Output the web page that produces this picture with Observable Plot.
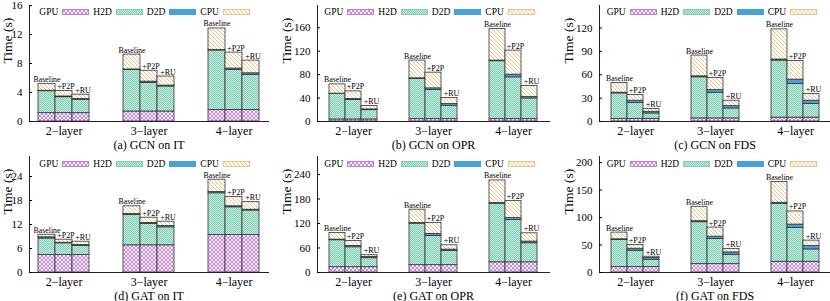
<!DOCTYPE html>
<html><head><meta charset="utf-8">
<script src="https://cdn.jsdelivr.net/npm/d3@7"></script>
<script src="https://cdn.jsdelivr.net/npm/@observablehq/plot@0.6"></script>
<style>
body{margin:0;background:#fff;}
#fig{position:relative;width:830px;height:301px;overflow:hidden;font-family:"Liberation Serif","Times New Roman",Times,"DejaVu Serif",serif;}
#fig svg, #fig svg text{font-family:"Liberation Serif","Times New Roman",Times,"DejaVu Serif",serif !important;}
.panel{position:absolute;}
.legend{position:absolute;display:flex;align-items:center;height:10px;font-size:9.5px;line-height:10px;}
.entry{display:flex;align-items:center;justify-content:flex-end;width:53.5px;}
.entry span{margin-right:4px;}
.entry svg{display:block;}
</style></head>
<body>
<svg width="0" height="0" style="position:absolute">
<defs>
<pattern id="pGPU" width="4" height="4" patternUnits="userSpaceOnUse">
 <rect width="4" height="4" fill="#f7edfc"/>
 <path d="M0,0L4,4M4,0L0,4" stroke="#c07ee8" stroke-width="0.9"/>
</pattern>
<pattern id="pH2D" width="2" height="2" patternUnits="userSpaceOnUse">
 <rect width="2" height="2" fill="#c4ecdf"/>
 <rect width="1" height="1" fill="#80cfb4"/>
 <rect x="1" y="1" width="1" height="1" fill="#80cfb4"/>
</pattern>
<pattern id="pCPU" width="4" height="4" patternUnits="userSpaceOnUse">
 <rect width="4" height="4" fill="#fff"/>
 <path d="M0,0L4,4M-1,3L1,5M3,-1L5,1" stroke="#f4c27c" stroke-width="1"/>
</pattern>
</defs></svg>
<div id="fig"></div>
<script>
// ---- categories ----
const layers = ["2\u2212layer", "3\u2212layer", "4\u2212layer"];
const variants = ["Baseline", "+P2P", "+RU"];
const components = ["GPU", "H2D", "D2D", "CPU"];
const captions = ["(a) GCN on IT", "(b) GCN on OPR", "(c) GCN on FDS", "(d) GAT on IT", "(e) GAT on OPR", "(f) GAT on FDS"];
const yLabel = "Time (s)";
const yMax = [16, 198, 149, 29, 284, 211];
const yTicks = [[0,4,8,12,16],[0,40,80,120,160],[0,30,60,90,120],[0,6,12,18,24],[0,60,120,180,240],[0,50,100,150,200]];

// ---- values (segment durations, seconds) order: 2L B,P,R | 3L B,P,R | 4L B,P,R ----
const gcnIT_GPU = [1.15,1.15,1.15, 1.38,1.38,1.38, 1.6,1.6,1.6];
const gcnIT_H2D = [3.03,2.2,1.85, 5.72,3.95,3.45, 8.2,5.5,4.8];
const gcnIT_D2D = [0.07,0.1,0.1, 0.08,0.17,0.12, 0.08,0.2,0.25];
const gcnIT_CPU = [0.95,0.75,0.6, 2.05,1.5,1.25, 2.95,2.2,1.75];

const gcnOPR_GPU = [3.5,3.5,3.5, 4,4,4, 4,4,4];
const gcnOPR_H2D = [43.4,33.1,15.9, 68.6,49.7,22.9, 98.9,71.4,35.4];
const gcnOPR_D2D = [0.6,1.7,1.2, 1.1,2.9,2.8, 1.1,4.6,2.3];
const gcnOPR_CPU = [15.9,13.1,5.7, 30.3,26.8,10.3, 53.7,41,18.9];

const gcnFDS_GPU = [3.4,3.4,3.4, 4,4,4, 5,5,5];
const gcnFDS_H2D = [32.7,20.3,6.9, 52.8,33,12.8, 73.3,43.2,17.4];
const gcnFDS_D2D = [0.9,3,2.2, 1.2,3.4,3, 1.3,5.6,4.3];
const gcnFDS_CPU = [12.5,7.3,3.4, 26.7,15.5,6.9, 38.7,24,8.6];

const gatIT_GPU = [4.35,4.35,4.35, 6.8,6.8,6.8, 9.35,9.35,9.35];
const gatIT_H2D = [4.15,2.95,2.25, 7.6,5.3,4.5, 10.45,6.95,6.15];
const gatIT_D2D = [0.3,0.15,0.25, 0.2,0.3,0.3, 0.3,0.25,0.2];
const gatIT_CPU = [0.65,0.75,0.85, 1.95,1.3,1.1, 3.1,2.35,1.9];

const gatOPR_GPU = [13,13,13, 18,18,18, 25,25,25];
const gatOPR_H2D = [66,48.8,22, 101.6,71.5,34.9, 143.4,103.6,46.6];
const gatOPR_D2D = [1.5,3.2,3.2, 1.4,4.9,3.1, 1.6,4.8,4.1];
const gatOPR_CPU = [16.3,12.3,4.1, 32.8,26.6,10.7, 55.4,41.6,20.3];

const gatFDS_GPU = [9.8,9.8,9.8, 15.2,15.2,15.2, 19.5,19.5,19.5];
const gatFDS_H2D = [49.3,29.8,13.4, 76.3,45.8,17.1, 105.5,61.6,22.5];
const gatFDS_D2D = [1.3,3.7,3, 1.8,4.2,4.3, 1.8,6.1,6.2];
const gatFDS_CPU = [12.2,6.7,2.5, 26.2,16.5,6.1, 37.8,23.8,9.8];

const panels = [
  [gcnIT_GPU, gcnIT_H2D, gcnIT_D2D, gcnIT_CPU],
  [gcnOPR_GPU, gcnOPR_H2D, gcnOPR_D2D, gcnOPR_CPU],
  [gcnFDS_GPU, gcnFDS_H2D, gcnFDS_D2D, gcnFDS_CPU],
  [gatIT_GPU, gatIT_H2D, gatIT_D2D, gatIT_CPU],
  [gatOPR_GPU, gatOPR_H2D, gatOPR_D2D, gatOPR_CPU],
  [gatFDS_GPU, gatFDS_H2D, gatFDS_D2D, gatFDS_CPU]
];

// ---- layout ----
const colLeft = [0, 275, 550], colWidth = [275, 275, 280];
const colMarginLeft = [29, 42, 49], colMarginRight = [7, 1, 0];
const colYLabelOffset = [22, 30.5, 31];
const colLegendLeft = [35.8, 45.8, 53.2];
const rowTop = [0, 150], rowHeight = [150, 151], rowMarginTop = [5, 6];
const rowLegendCenter = [12.3, 14];
const FONT = "'Liberation Serif', 'Times New Roman', Times, 'DejaVu Serif', serif";

const fills = ["url(#pGPU)", "url(#pH2D)", "#45a3dc", "url(#pCPU)"];
const swatchStroke = ["#c07ee8", "#80cfb4", "#45a3dc", "#f4c27c"];

const fig = document.getElementById("fig");

panels.forEach((arrs, i) => {
  const col = i % 3, row = Math.floor(i / 3);
  const rows = [], bars = [];
  layers.forEach((L, li) => variants.forEach((V, vi) => {
    const k = li * 3 + vi, key = L + "|" + V;
    const vals = arrs.map(a => a[k]);
    components.forEach((c, ci) => rows.push({key, comp: c, value: vals[ci]}));
    bars.push({key, label: V, total: d3.sum(vals)});
  }));
  const domain = [];
  layers.forEach((L, li) => {
    if (li > 0) domain.push("gap" + li + "a", "gap" + li + "b");
    variants.forEach(V => domain.push(L + "|" + V));
  });

  const chart = Plot.plot({
    width: colWidth[col], height: rowHeight[row],
    marginLeft: colMarginLeft[col], marginRight: colMarginRight[col],
    marginTop: rowMarginTop[row], marginBottom: 29,
    style: {fontFamily: FONT, color: "black", background: "transparent", overflow: "visible"},
    x: {type: "band", domain, paddingInner: 0, paddingOuter: 0.5},
    y: {domain: [0, yMax[i]]},
    color: {domain: components, range: fills},
    marks: [
      Plot.barY(rows, {x: "key", y: "value", fill: "comp", stroke: "#333", strokeWidth: 0.8}),
      Plot.text(bars.filter(b => b.label === "Baseline"), {x: "key", y: "total", text: "label", lineAnchor: "bottom", dy: -2, dx: 0, fontSize: 7.8, fontFamily: FONT}),
      Plot.text(bars.filter(b => b.label !== "Baseline"), {x: "key", y: "total", text: "label", lineAnchor: "bottom", dy: -2, dx: 2, fontSize: 8, fontFamily: FONT}),
      Plot.frame({anchor: "left", stroke: "#222"}),
      Plot.frame({anchor: "bottom", stroke: "#222"}),
      Plot.axisY({ticks: yTicks[i], tickSize: -3, tickPadding: 10, fontSize: 11, fontFamily: FONT, label: null}),
      Plot.text([yLabel], {frameAnchor: "left", rotate: -90, dx: -colYLabelOffset[col], fontSize: 13.5, fontFamily: FONT}),
      Plot.axisX({ticks: layers.map(L => L + "|+P2P"), tickFormat: d => d.split("|")[0], tickSize: 0, tickPadding: 5, fontSize: 12, fontFamily: FONT,
                  label: captions[i], labelAnchor: "center", labelOffset: 27, labelArrow: false})
    ]
  });

  const div = document.createElement("div");
  div.className = "panel";
  div.style.left = colLeft[col] + "px";
  div.style.top = rowTop[row] + "px";
  div.style.width = colWidth[col] + "px";
  div.style.height = rowHeight[row] + "px";
  div.appendChild(chart);

  const leg = document.createElement("div");
  leg.className = "legend";
  leg.style.left = colLegendLeft[col] + "px";
  leg.style.top = (rowLegendCenter[row] - 5) + "px";
  components.forEach((c, ci) => {
    const e = document.createElement("div");
    e.className = "entry";
    e.innerHTML = `<span>${c}</span><svg width="27" height="6"><rect x="0.5" y="0.5" width="26" height="5" fill="${fills[ci]}" stroke="${swatchStroke[ci]}" stroke-width="1"/></svg>`;
    leg.appendChild(e);
  });
  div.appendChild(leg);
  fig.appendChild(div);
});
</script>
</body></html>
